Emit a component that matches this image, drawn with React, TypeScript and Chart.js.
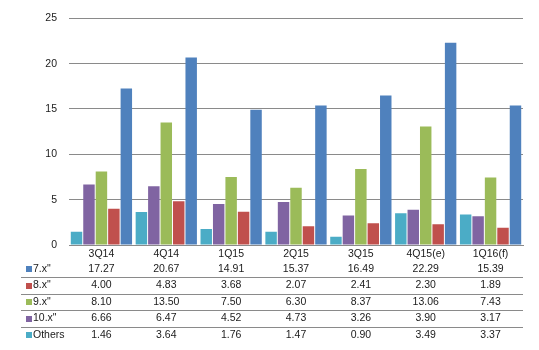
import React, { useEffect, useRef } from "react";
import { Chart, registerables } from "chart.js";

Chart.register(...registerables);

const categories = ["3Q14", "4Q14", "1Q15", "2Q15", "3Q15", "4Q15(e)", "1Q16(f)"];
const s7 = [17.27, 20.67, 14.91, 15.37, 16.49, 22.29, 15.39];
const s8 = [4.0, 4.83, 3.68, 2.07, 2.41, 2.3, 1.89];
const s9 = [8.1, 13.5, 7.5, 6.3, 8.37, 13.06, 7.43];
const s10 = [6.66, 6.47, 4.52, 4.73, 3.26, 3.9, 3.17];
const sOthers = [1.46, 3.64, 1.76, 1.47, 0.9, 3.49, 3.37];

const seriesNames = ['7.x"', '8.x"', '9.x"', '10.x"', "Others"];
const seriesValues = [s7, s8, s9, s10, sOthers];
const seriesColors = ["#4F81BD", "#C0504D", "#9BBB59", "#8064A2", "#4BACC6"];

const yTicks = [0, 5, 10, 15, 20, 25];

const FONT = "Liberation Sans, Arial, sans-serif";
const TEXT = "#1a1a1a";
const GRID = "#8a8a8a";

const tablePlugin = {
  id: "dataTable",
  afterDraw(chart: any) {
    const ctx = chart.ctx;
    const x = chart.scales.x;
    const area = chart.chartArea;
    const rowY = [269, 285.5, 302, 318.5, 335];
    const lineY = [277, 294, 310, 327];
    ctx.save();
    ctx.fillStyle = GRID;
    lineY.forEach((ly) => ctx.fillRect(21, ly, area.right - 21, 1));
    ctx.font = `10.5px ${FONT}`;
    ctx.textBaseline = "middle";
    seriesNames.forEach((name, r) => {
      const cy = rowY[r];
      ctx.fillStyle = seriesColors[r];
      ctx.fillRect(26, Math.round(cy - 3), 6, 6);
      ctx.fillStyle = TEXT;
      ctx.textAlign = "left";
      ctx.fillText(name, 33, cy);
      ctx.textAlign = "center";
      seriesValues[r].forEach((v, i) => {
        ctx.fillText(v.toFixed(2), x.getPixelForValue(i), cy);
      });
    });
    ctx.restore();
  },
};

export default function App() {
  const ref = useRef<HTMLCanvasElement | null>(null);
  useEffect(() => {
    if (!ref.current) return;
    const order = [4, 3, 2, 1, 0];
    const chart = new Chart(ref.current, {
      type: "bar",
      data: {
        labels: categories,
        datasets: order.map((k) => ({
          label: seriesNames[k],
          data: seriesValues[k],
          backgroundColor: seriesColors[k],
          borderWidth: 0,
          categoryPercentage: 0.96,
          barPercentage: 0.92,
        })),
      },
      options: {
        animation: false,
        responsive: false,
        layout: { padding: { left: 0, right: 16, top: 14, bottom: 0 } },
        plugins: { legend: { display: false }, tooltip: { enabled: false } },
        scales: {
          x: {
            grid: { display: false, drawTicks: false },
            border: { display: true, color: GRID, width: 1 },
            ticks: { color: TEXT, font: { family: FONT, size: 10.5 }, padding: 3, maxRotation: 0 },
            afterFit: (s: any) => {
              s.height = 105;
            },
          },
          y: {
            min: 0,
            max: 25,
            afterBuildTicks: (s: any) => {
              s.ticks = yTicks.map((v) => ({ value: v }));
            },
            grid: { color: GRID, drawTicks: false, lineWidth: 1 },
            border: { display: false },
            ticks: { color: TEXT, font: { family: FONT, size: 10.5 }, padding: 12 },
            afterFit: (s: any) => {
              s.width = 69;
            },
          },
        },
      },
      plugins: [tablePlugin],
    });
    return () => chart.destroy();
  }, []);
  return (
    <div style={{ position: "absolute", left: 0, top: 0, width: 539, height: 350, background: "#fff" }}>
      <canvas ref={ref} width={539} height={350} style={{ display: "block" }} />
    </div>
  );
}
